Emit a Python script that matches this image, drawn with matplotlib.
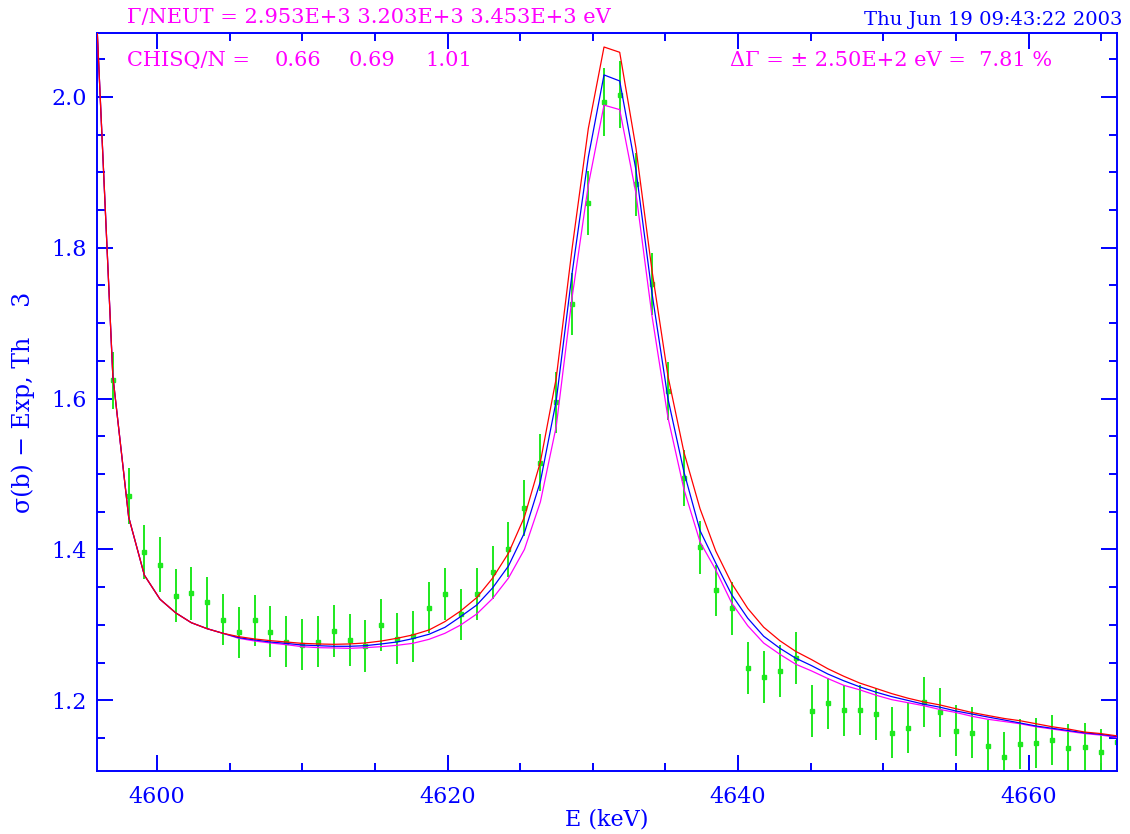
import matplotlib
matplotlib.use("Agg")
import matplotlib.pyplot as plt
from matplotlib.ticker import MultipleLocator, FormatStrFormatter

# energies of the measured points (keV)
energy = [4595.88, 4596.96, 4598.05, 4599.13, 4600.21, 4601.29, 4602.36, 4603.44,
          4604.54, 4605.62, 4606.72, 4607.80, 4608.88, 4609.98, 4611.08, 4612.18,
          4613.26, 4614.34, 4615.44, 4616.52, 4617.60, 4618.72, 4619.82, 4620.90,
          4622.01, 4623.10, 4624.19, 4625.29, 4626.39, 4627.48, 4628.58, 4629.69,
          4630.77, 4631.85, 4632.97, 4634.07, 4635.17, 4636.27, 4637.38, 4638.46,
          4639.56, 4640.66, 4641.76, 4642.88, 4643.96, 4645.06, 4646.17, 4647.27,
          4648.37, 4649.47, 4650.57, 4651.67, 4652.77, 4653.88, 4654.98, 4656.08,
          4657.18, 4658.32, 4659.42, 4660.52, 4661.63, 4662.73, 4663.86, 4664.96,
          4666.06]

# experimental cross section (b) and its error
sigma_exp = [2.110, 1.624, 1.471, 1.397, 1.380, 1.339, 1.342, 1.330,
             1.307, 1.290, 1.306, 1.291, 1.278, 1.274, 1.278, 1.292,
             1.280, 1.272, 1.300, 1.282, 1.285, 1.323, 1.341, 1.314,
             1.341, 1.370, 1.400, 1.455, 1.515, 1.595, 1.725, 1.859,
             1.993, 2.003, 1.884, 1.752, 1.610, 1.495, 1.403, 1.346,
             1.322, 1.243, 1.231, 1.239, 1.256, 1.186, 1.196, 1.187,
             1.187, 1.182, 1.157, 1.163, 1.198, 1.184, 1.160, 1.157,
             1.140, 1.125, 1.142, 1.144, 1.148, 1.137, 1.138, 1.132,
             1.145]
sigma_err = [0.045, 0.038, 0.037, 0.036, 0.036, 0.035, 0.035, 0.034,
             0.034, 0.034, 0.034, 0.034, 0.034, 0.034, 0.034, 0.034,
             0.034, 0.034, 0.034, 0.034, 0.034, 0.034, 0.035, 0.034,
             0.035, 0.035, 0.036, 0.037, 0.038, 0.040, 0.041, 0.042,
             0.045, 0.044, 0.042, 0.041, 0.039, 0.037, 0.035, 0.034,
             0.035, 0.035, 0.034, 0.034, 0.034, 0.034, 0.034, 0.034,
             0.033, 0.034, 0.034, 0.033, 0.033, 0.033, 0.034, 0.034,
             0.034, 0.033, 0.033, 0.033, 0.033, 0.032, 0.032, 0.030,
             0.033]

# theory for the three neutron widths
th_low = [2.090, 1.630, 1.443, 1.366, 1.334, 1.316, 1.303, 1.2951,
          1.2889, 1.2823, 1.2787, 1.2761, 1.2739, 1.2712, 1.2699, 1.2695,
          1.2690, 1.2699, 1.2712, 1.2730, 1.2756, 1.2809, 1.2889, 1.2999,
          1.3145, 1.335, 1.362, 1.400, 1.463, 1.563, 1.735, 1.883,
          1.989, 1.983, 1.872, 1.710, 1.575, 1.480, 1.410, 1.373,
          1.329, 1.299, 1.276, 1.261, 1.248, 1.239, 1.229, 1.220,
          1.214, 1.207, 1.201, 1.197, 1.193, 1.188, 1.184, 1.179,
          1.175, 1.172, 1.169, 1.165, 1.162, 1.159, 1.156, 1.154,
          1.151]
th_mid = [2.090, 1.630, 1.443, 1.366, 1.334, 1.316, 1.303, 1.2951,
          1.2889, 1.2832, 1.2801, 1.2774, 1.2756, 1.2734, 1.2725, 1.2717,
          1.2717, 1.2725, 1.2748, 1.2774, 1.2818, 1.2876, 1.2968, 1.3110,
          1.3264, 1.349, 1.378, 1.422, 1.490, 1.597, 1.767, 1.920,
          2.029, 2.021, 1.903, 1.740, 1.600, 1.503, 1.425, 1.382,
          1.340, 1.309, 1.285, 1.269, 1.256, 1.246, 1.235, 1.226,
          1.218, 1.211, 1.205, 1.200, 1.195, 1.191, 1.186, 1.182,
          1.178, 1.174, 1.170, 1.166, 1.163, 1.160, 1.157, 1.155,
          1.152]
th_high = [2.090, 1.630, 1.443, 1.366, 1.334, 1.316, 1.303, 1.2951,
           1.2889, 1.2845, 1.2814, 1.2792, 1.2774, 1.2756, 1.2748, 1.2743,
           1.2748, 1.2761, 1.2787, 1.2823, 1.2867, 1.2933, 1.3044, 1.3185,
           1.3362, 1.362, 1.395, 1.443, 1.516, 1.627, 1.800, 1.958,
           2.066, 2.059, 1.932, 1.770, 1.630, 1.529, 1.454, 1.398,
           1.355, 1.322, 1.297, 1.279, 1.265, 1.254, 1.242, 1.232,
           1.223, 1.216, 1.209, 1.203, 1.198, 1.194, 1.189, 1.184,
           1.180, 1.176, 1.173, 1.169, 1.165, 1.162, 1.158, 1.156,
           1.153]

BLUE = "#0000ff"
MAG = "#ff00ff"
GREEN = "#1ee81e"
W, H = 1130, 834

plt.rcParams["font.family"] = "DejaVu Serif"

fig = plt.figure(figsize=(W / 100, H / 100), dpi=100)
ax = fig.add_axes([96.7 / W, 1 - 771 / H, (1116.7 - 96.7) / W, (771 - 33.2) / H])

ax.errorbar(energy, sigma_exp, yerr=sigma_err, fmt="s", ms=2.2, color=GREEN,
            ecolor=GREEN, elinewidth=1.4, capsize=0, zorder=2)
ax.plot(energy, th_low, color=MAG, lw=0.9, zorder=3)
ax.plot(energy, th_mid, color=BLUE, lw=0.9, zorder=4)
ax.plot(energy, th_high, color="#ff0000", lw=0.9, zorder=5)

ax.set_xlim(4595.85, 4666.06)
ax.set_ylim(1.1064, 2.0843)

ax.xaxis.set_major_locator(MultipleLocator(20))
ax.xaxis.set_minor_locator(MultipleLocator(5))
ax.yaxis.set_major_locator(MultipleLocator(0.2))
ax.yaxis.set_minor_locator(MultipleLocator(0.05))
ax.yaxis.set_major_formatter(FormatStrFormatter("%.1f"))

for s in ax.spines.values():
    s.set_color(BLUE)
    s.set_linewidth(1.4)
ax.tick_params(which="both", direction="in", top=True, right=True, color=BLUE,
               labelcolor=BLUE, labelsize=16, width=1.4)
ax.tick_params(which="major", length=11.5)
ax.tick_params(which="minor", length=6)
ax.tick_params(axis="x", pad=11)
ax.tick_params(axis="y", pad=7)

ax.set_xlabel("E (keV)", color=BLUE, fontsize=16, labelpad=0)
fig.text(23 / W, 1 - 402 / H, "\u03c3(b) \u2212 Exp, Th    3", color=BLUE,
         fontsize=17, rotation=90, ha="center", va="center")


def ftext(x, y, s, **kw):
    fig.text(x / W, 1 - y / H, s, va="baseline", **kw)


ftext(127, 23, "\u0393/NEUT = 2.953E+3 3.203E+3 3.453E+3 eV", color=MAG, fontsize=15)
ftext(1122, 25, "Thu Jun 19 09:43:22 2003", color=BLUE, fontsize=14, ha="right")
ftext(127, 66, "CHISQ/N =", color=MAG, fontsize=15)
ftext(275, 66, "0.66", color=MAG, fontsize=15)
ftext(349, 66, "0.69", color=MAG, fontsize=15)
ftext(425, 66, "1.01", color=MAG, fontsize=15)
ftext(730, 66, "\u0394\u0393 = \u00b1 2.50E+2 eV =  7.81 %", color=MAG, fontsize=15)

fig.savefig("out.png", dpi=100)
